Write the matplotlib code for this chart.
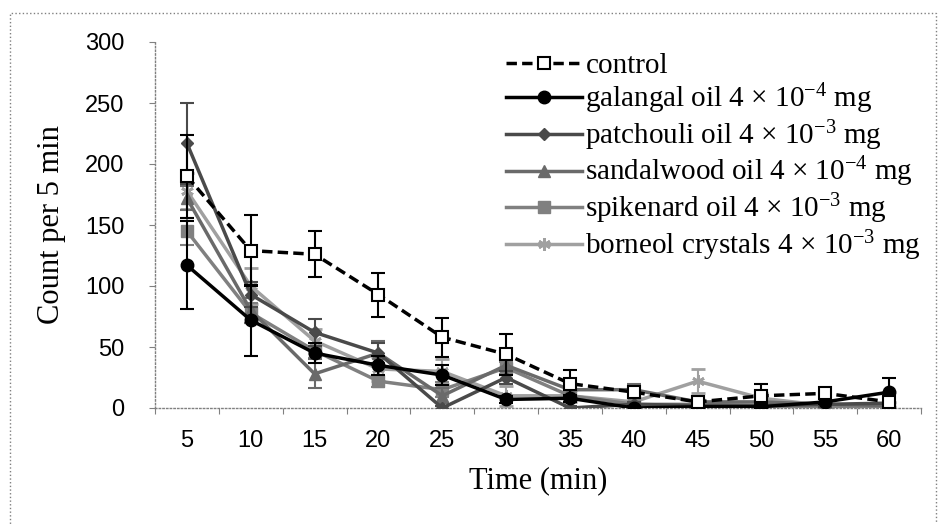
import matplotlib
matplotlib.use("Agg")
import matplotlib.pyplot as plt
from matplotlib.patches import Rectangle

plt.rcParams['mathtext.fontset'] = 'custom'
plt.rcParams['mathtext.rm'] = 'Liberation Serif'
plt.rcParams['mathtext.it'] = 'Liberation Serif:italic'

times = [5, 10, 15, 20, 25, 30, 35, 40, 45, 50, 55, 60]

control = [190, 129, 126, 93, 58, 44, 20, 13, 5, 10, 12, 5]
control_err = [34, 29, 19, 18, 16, 17, 11, 4, 3, 10, 3, 3]
galangal = [117, 72, 45, 35, 27, 7, 8, 0, 1, 1, 5, 13]
galangal_err = [36, 29, 8, 8, 8, 3, 3, 2, 2, 2, 2, 12]
patchouli = [217, 93, 62, 45, 0, 25, 0, 3, 2, 2, 3, 4]
patchouli_err = [33, 10, 11, 8, 2, 5, 2, 2, 2, 2, 2, 2]
sandalwood = [172, 80, 28, 45, 10, 35, 15, 15, 5, 5, 3, 2]
sandalwood_err = [10, 10, 12, 10, 6, 8, 5, 5, 3, 3, 2, 2]
spikenard = [145, 78, 47, 22, 15, 33, 10, 3, 3, 2, 0, 0]
spikenard_err = [11, 8, 6, 5, 6, 5, 4, 2, 2, 2, 2, 2]
borneol = [178, 100, 55, 32, 30, 10, 10, 5, 22, 8, 2, 3]
borneol_err = [15, 15, 10, 10, 10, 8, 5, 3, 10, 4, 2, 2]

labels = ['control',
          'galangal oil 4 × $10^{-4}$ mg',
          'patchouli oil 4 × $10^{-3}$ mg',
          'sandalwood oil 4 × $10^{-4}$ mg',
          'spikenard oil 4 × $10^{-3}$ mg',
          'borneol crystals 4 × $10^{-3}$ mg']

fig = plt.figure(figsize=(9.4, 5.24), dpi=100)
ax = fig.add_axes([155/940, 116/524, 766/940, 366/524])

series = [
    (borneol, borneol_err, dict(color='#a0a0a0', marker=(6, 2, 0), ms=9, mew=2, mfc='#a0a0a0', mec='#a0a0a0', ls='-'), labels[5], 2),
    (spikenard, spikenard_err, dict(color='#808080', marker='s', ms=8, mfc='#808080', mec='#808080', ls='-'), labels[4], 3),
    (sandalwood, sandalwood_err, dict(color='#6a6a6a', marker='^', ms=8, mfc='#6a6a6a', mec='#6a6a6a', ls='-'), labels[3], 4),
    (patchouli, patchouli_err, dict(color='#4a4a4a', marker='D', ms=6, mfc='#4a4a4a', mec='#4a4a4a', ls='-'), labels[2], 5),
    (galangal, galangal_err, dict(color='black', marker='o', ms=9, mfc='black', mec='black', ls='-'), labels[1], 6),
    (control, control_err, dict(color='black', marker='s', ms=8, mfc='white', mec='black', mew=1.5, ls=(0, (3, 1.5))), labels[0], 7),
]

handles = {}
for vals, errs, style, lab, z in series:
    h = ax.errorbar(times, vals, yerr=errs, capsize=5, elinewidth=1.5, capthick=1.5,
                    lw=2.5, zorder=z, label=lab, **style)
    handles[lab] = h.lines[0]

ax.set_xlim(2.5, 62.5)
ax.set_ylim(0, 300)
ax.set_xticks(times)
ax.set_xticklabels([str(t) for t in times])
ax.set_xticks([2.5 + 5*i for i in range(13)], minor=True)
ax.tick_params(axis='x', which='major', length=0, pad=16, labelsize=17)
ax.tick_params(axis='x', which='minor', length=4, color='gray', width=0.8)
ax.set_yticks([0, 50, 100, 150, 200, 250, 300])
ax.tick_params(axis='y', which='major', length=4, color='gray', width=0.8, pad=18, labelsize=17)
for lbl in ax.get_xticklabels() + ax.get_yticklabels():
    lbl.set_fontfamily('Liberation Sans')

for s in ['top', 'right']:
    ax.spines[s].set_visible(False)
for s in ['left', 'bottom']:
    ax.spines[s].set_linestyle(':')
    ax.spines[s].set_color('gray')
    ax.spines[s].set_linewidth(1)

ax.set_xlabel('Time (min)', fontsize=22, family='Liberation Serif', labelpad=10)
ax.set_ylabel('Count per 5 min', fontsize=22, family='Liberation Serif', labelpad=14)

order = labels
leg = ax.legend([handles[l] for l in order], order, loc='upper left',
                bbox_to_anchor=(0.447, 0.995), frameon=False,
                prop={'family': 'Liberation Serif', 'size': 21},
                handlelength=2.6, handletextpad=0.12, labelspacing=0.08,
                borderaxespad=0, borderpad=0.3)

fig.patches.append(Rectangle((10/940, -0.1), 926/940, (524-13)/524 + 0.1,
                             transform=fig.transFigure, fill=False, ls=':',
                             ec='gray', lw=1))

fig.savefig('out.png', dpi=100)
